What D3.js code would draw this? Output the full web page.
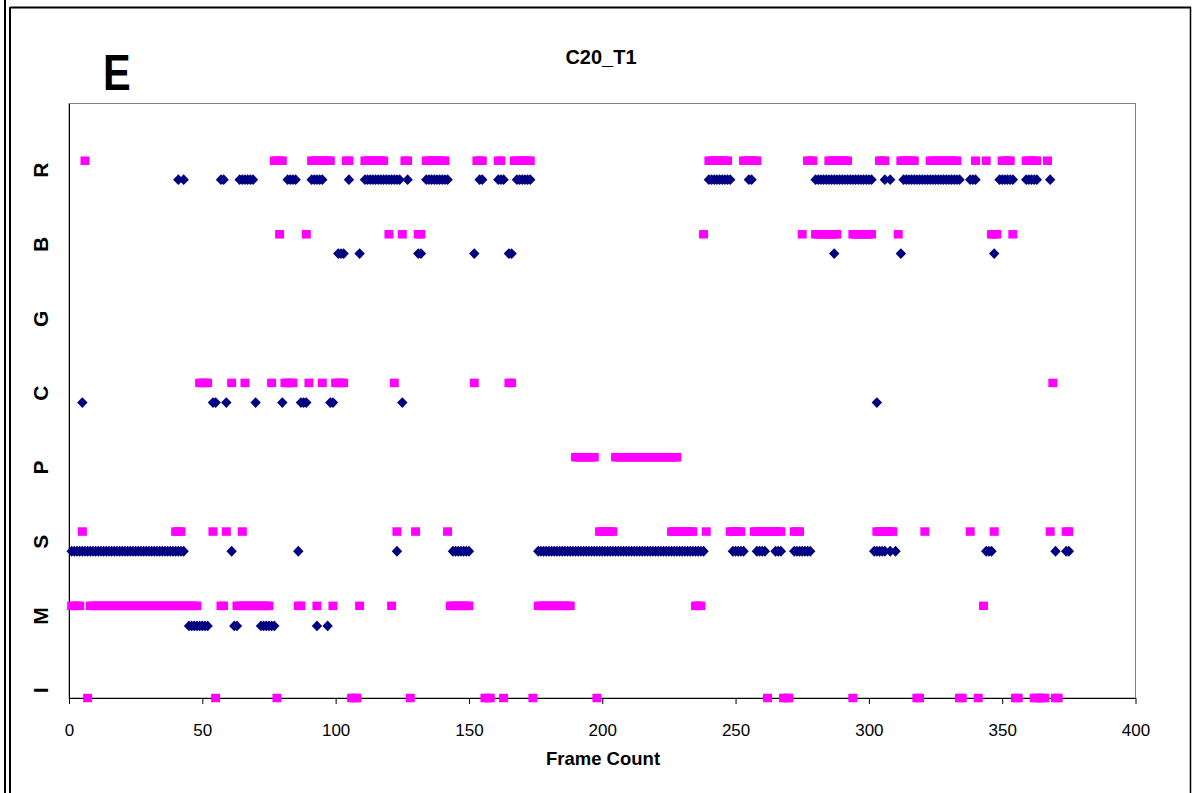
<!DOCTYPE html>
<html>
<head>
<meta charset="utf-8">
<script src="https://cdn.jsdelivr.net/npm/d3@7"></script>
<style>
  body { margin: 0; background: #fff; }
  svg { display: block; font-family: "Liberation Sans", Arial, sans-serif; }
</style>
</head>
<body>
<script>
// rows, bottom to top
var rows = ["I", "M", "S", "P", "C", "G", "B", "R"];
var rowLevel = [0, 1, 2, 3, 4, 5, 6, 7];
var pinkLevel = [0, 1.24, 2.24, 3.24, 4.24, 5.24, 6.24, 7.23];
var blueLevel = [-0.03, 0.97, 1.975, 2.975, 3.975, 4.975, 5.98, 6.975];
var xTicks = [0, 50, 100, 150, 200, 250, 300, 350, 400];

// frame numbers where each code was seen (pink = squares, blue = diamonds)
var pinkR = [6, 77, 78, 79, 80, 91, 92, 93, 94, 95, 96, 97, 98, 104, 105, 111, 112, 113, 114, 115, 116, 117, 118,
  126, 127, 134, 135, 136, 137, 138, 139, 140, 141, 153, 154, 155, 161, 162, 167, 168, 169, 170, 171, 172, 173,
  240, 241, 242, 243, 244, 245, 246, 247, 253, 254, 255, 256, 257, 258, 277, 278, 279,
  285, 286, 287, 288, 289, 290, 291, 292, 304, 305, 306, 312, 313, 314, 315, 316, 317,
  323, 324, 325, 326, 327, 328, 329, 330, 331, 332, 333, 340, 344, 350, 351, 352, 353,
  359, 360, 361, 362, 363, 367];
var blueR = [41, 43, 57, 58, 64, 65, 66, 67, 68, 69, 82, 83, 84, 85, 91, 92, 93, 94, 95, 105,
  111, 112, 113, 114, 115, 116, 117, 118, 119, 120, 121, 122, 123, 124, 127,
  134, 135, 136, 137, 138, 139, 140, 141, 142, 154, 155, 161, 162, 163, 168, 169, 170, 171, 172, 173,
  240, 241, 242, 243, 244, 245, 246, 247, 248, 255, 256,
  280, 281, 282, 283, 284, 285, 286, 287, 288, 289, 290, 291, 292, 293, 294, 295, 296, 297, 298, 299, 300, 301,
  306, 308, 313, 314, 315, 316, 317, 318, 319, 320, 321, 322, 323, 324, 325, 326, 327, 328, 329, 330, 331, 332, 333, 334,
  338, 339, 340, 349, 350, 351, 352, 353, 354, 359, 360, 361, 362, 363, 368];
var pinkB = [79, 89, 120, 125, 131, 132, 238, 275, 280, 281, 282, 283, 284, 285, 286, 287, 288,
  294, 295, 296, 297, 298, 299, 300, 301, 311, 346, 347, 348, 354];
var blueB = [101, 102, 103, 109, 131, 132, 152, 165, 166, 287, 312, 347];
var pinkG = [];
var blueG = [];
var pinkC = [49, 50, 51, 52, 61, 66, 76, 81, 82, 83, 84, 90, 95, 100, 101, 102, 103, 122, 152, 165, 166, 369];
var blueC = [5, 54, 55, 59, 70, 80, 87, 88, 89, 98, 99, 125, 303];
var pinkP = [190, 191, 192, 193, 194, 195, 196, 197, 205, 206, 207, 208, 209, 210, 211, 212, 213, 214, 215, 216,
  217, 218, 219, 220, 221, 222, 223, 224, 225, 226, 227, 228];
var blueP = [];
var pinkS = [5, 40, 41, 42, 54, 59, 65, 123, 130, 142, 199, 200, 201, 202, 203, 204,
  226, 227, 228, 229, 230, 231, 232, 233, 234, 239, 248, 249, 250, 251, 252,
  257, 258, 259, 260, 261, 262, 263, 264, 265, 266, 267, 272, 273, 274,
  303, 304, 305, 306, 307, 308, 309, 321, 338, 347, 368, 374, 375];
var blueS = [1, 2, 3, 4, 5, 6, 7, 8, 9, 10, 11, 12, 13, 14, 15, 16, 17, 18, 19, 20, 21, 22, 23, 24, 25, 26, 27, 28,
  29, 30, 31, 32, 33, 34, 35, 36, 37, 38, 39, 40, 41, 42, 43, 61, 86, 123, 144, 145, 146, 147, 148, 149, 150,
  176, 177, 178, 179, 180, 181, 182, 183, 184, 185, 186, 187, 188, 189, 190, 191, 192, 193, 194, 195, 196, 197,
  198, 199, 200, 201, 202, 203, 204, 205, 206, 207, 208, 209, 210, 211, 212, 213, 214, 215, 216, 217, 218, 219,
  220, 221, 222, 223, 224, 225, 226, 227, 228, 229, 230, 231, 232, 233, 234, 235, 236, 237, 238,
  249, 250, 251, 252, 253, 258, 259, 260, 261, 265, 266, 267, 272, 273, 274, 275, 276, 277, 278,
  302, 303, 304, 305, 306, 308, 310, 344, 345, 346, 370, 374, 375];
var pinkM = [1, 2, 3, 4, 8, 9, 10, 11, 12, 13, 14, 15, 16, 17, 18, 19, 20, 21, 22, 23, 24, 25, 26, 27, 28, 29, 30,
  31, 32, 33, 34, 35, 36, 37, 38, 39, 40, 41, 42, 43, 44, 45, 46, 47, 48, 57, 58,
  63, 64, 65, 66, 67, 68, 69, 70, 71, 72, 73, 74, 75, 86, 87, 93, 99, 109, 121,
  143, 144, 145, 146, 147, 148, 149, 150, 176, 177, 178, 179, 180, 181, 182, 183, 184, 185, 186, 187, 188,
  235, 236, 237, 343];
var blueM = [45, 46, 47, 48, 49, 50, 51, 52, 62, 63, 72, 73, 74, 75, 76, 77, 93, 97];
var pinkI = [7, 55, 78, 106, 107, 108, 128, 156, 157, 158, 163, 174, 198, 262, 268, 269, 270, 294,
  318, 319, 334, 335, 341, 355, 356, 362, 363, 364, 365, 366, 370, 371];
var blueI = [];

var pinkByRow = [pinkI, pinkM, pinkS, pinkP, pinkC, pinkG, pinkB, pinkR];
var blueByRow = [blueI, blueM, blueS, blueP, blueC, blueG, blueB, blueR];

var W = 1197, H = 793;
var plot = { left: 69, right: 1135.5, top: 103.5, bottom: 698 };

var x = d3.scaleLinear().domain([0, 400]).range([plot.left, plot.right]);
var y = d3.scaleLinear().domain([0, 8]).range([plot.bottom, plot.top]);

var svg = d3.select("body").append("svg")
  .attr("width", W)
  .attr("height", H);

svg.append("rect").attr("width", W).attr("height", H).attr("fill", "#fff");

// window frame lines
svg.append("line").attr("x1", 5).attr("x2", 5).attr("y1", 0).attr("y2", H)
  .attr("stroke", "#000").attr("stroke-width", 2);
svg.append("line").attr("x1", 10).attr("x2", 10).attr("y1", 7).attr("y2", H)
  .attr("stroke", "#000").attr("stroke-width", 2);
svg.append("line").attr("x1", 10).attr("x2", 1191).attr("y1", 7.5).attr("y2", 7.5)
  .attr("stroke", "#000").attr("stroke-width", 2);
svg.append("line").attr("x1", 1190.5).attr("x2", 1190.5).attr("y1", 7).attr("y2", H)
  .attr("stroke", "#000").attr("stroke-width", 1.5);

// plot area border
svg.append("rect")
  .attr("x", plot.left).attr("y", plot.top)
  .attr("width", plot.right - plot.left).attr("height", plot.bottom - plot.top)
  .attr("fill", "none").attr("stroke", "#808080").attr("stroke-width", 1);

// y axis with row letters
var yAxis = svg.append("g")
  .attr("transform", "translate(" + plot.left + ",0)")
  .call(d3.axisLeft(y)
    .tickValues(rowLevel.map(function (d) { return d + 0.11; }))
    .tickFormat(function (d, i) { return rows[i]; })
    .tickSize(0)
    .tickSizeOuter(0));
yAxis.select(".domain").attr("stroke", "#000");
yAxis.selectAll("text")
  .attr("x", 0).attr("dy", 0)
  .attr("text-anchor", "middle")
  .attr("transform", "translate(-21,0) rotate(-90)")
  .attr("fill", "#000")
  .style("font-size", "21px")
  .style("font-weight", "bold")
  .style("font-family", "'Liberation Sans', Arial, sans-serif");

// x axis
var xAxis = svg.append("g")
  .attr("transform", "translate(0," + plot.bottom + ")")
  .call(d3.axisBottom(x)
    .tickValues(xTicks)
    .tickSize(6)
    .tickSizeOuter(0)
    .tickPadding(20));
xAxis.select(".domain").attr("stroke", "#000");
xAxis.selectAll("line").attr("stroke", "#000");
xAxis.selectAll("text")
  .attr("fill", "#000")
  .style("font-size", "17px")
  .style("font-family", "'Liberation Sans', Arial, sans-serif");

// blue diamonds
var blueData = [];
blueByRow.forEach(function (arr, i) {
  arr.forEach(function (f) { blueData.push({ frame: f, level: blueLevel[i] }); });
});
svg.append("g").selectAll("path")
  .data(blueData)
  .enter().append("path")
  .attr("d", "M0,-5.4L5.2,0L0,5.4L-5.2,0Z")
  .attr("transform", function (d) { return "translate(" + x(d.frame) + "," + y(d.level) + ")"; })
  .attr("fill", "#000080");

// pink squares
var pinkData = [];
pinkByRow.forEach(function (arr, i) {
  arr.forEach(function (f) { pinkData.push({ frame: f, level: pinkLevel[i] }); });
});
svg.append("g").selectAll("rect")
  .data(pinkData)
  .enter().append("rect")
  .attr("x", function (d) { return x(d.frame) - 4.5; })
  .attr("y", function (d) { return y(d.level) - 4.25; })
  .attr("width", 9)
  .attr("height", 8.5)
  .attr("fill", "#ff00ff");

// titles
svg.append("text")
  .attr("x", 601).attr("y", 64)
  .attr("text-anchor", "middle")
  .style("font-size", "20px").style("font-weight", "bold")
  .text("C20_T1");

svg.append("text")
  .attr("transform", "translate(103,90) scale(0.83,1)")
  .style("font-size", "50px").style("font-weight", "bold")
  .text("E");

svg.append("text")
  .attr("x", 603).attr("y", 765)
  .attr("text-anchor", "middle")
  .style("font-size", "18.5px").style("font-weight", "bold")
  .text("Frame Count");
</script>
</body>
</html>
